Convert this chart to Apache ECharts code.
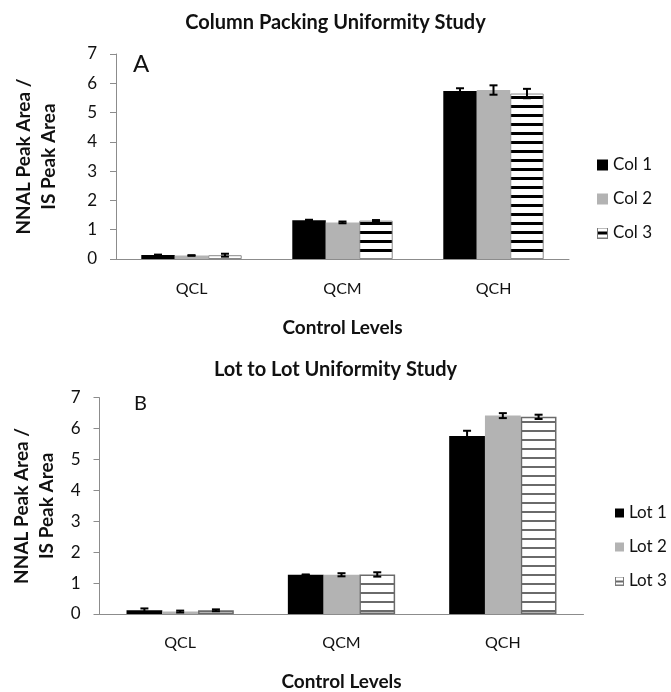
<!DOCTYPE html>
<html>
<head>
<meta charset="utf-8">
<script src="https://cdn.jsdelivr.net/npm/echarts@6/dist/echarts.min.js"></script>
<style>
html,body{margin:0;padding:0;background:#fff;}
#chart{width:671px;height:692px;}
</style>
</head>
<body>
<div id="chart"></div>
<script>
// ---- data ----
const categories = ['QCL', 'QCM', 'QCH'];
const yTicks = [0, 1, 2, 3, 4, 5, 6, 7];
const titleA = 'Column Packing Uniformity Study';
const titleB = 'Lot to Lot Uniformity Study';
const yName = 'NNAL Peak Area /\nIS Peak Area';
const xName = 'Control Levels';
const namesA = ['Col 1', 'Col 2', 'Col 3'];
const namesB = ['Lot 1', 'Lot 2', 'Lot 3'];

const col1 = [0.14, 1.32, 5.74];
const col1Err = [0.01, 0.02, 0.09];
const col2 = [0.12, 1.25, 5.77];
const col2Err = [0.01, 0.03, 0.16];
const col3 = [0.13, 1.31, 5.65];
const col3Err = [0.05, 0.02, 0.16];

const lot1 = [0.12, 1.27, 5.76];
const lot1Err = [0.06, 0.01, 0.17];
const lot2 = [0.08, 1.27, 6.42];
const lot2Err = [0.03, 0.05, 0.08];
const lot3 = [0.12, 1.28, 6.38];
const lot3Err = [0.03, 0.07, 0.07];

// ---- helpers ----
function stripeCanvas(lineColor, thick, period) {
  const c = document.createElement('canvas');
  c.width = 8; c.height = period;
  const g = c.getContext('2d');
  g.fillStyle = '#fff'; g.fillRect(0, 0, 8, period);
  g.fillStyle = lineColor; g.fillRect(0, period - thick, 8, thick);
  return c;
}
function legendIcon(lineColor, thick, size) {
  const c = document.createElement('canvas');
  c.width = size; c.height = size;
  const g = c.getContext('2d');
  g.fillStyle = '#fff'; g.fillRect(0, 0, size, size);
  g.strokeStyle = '#7a7a7a'; g.lineWidth = 1;
  g.strokeRect(0.5, 0.5, size - 1, size - 1);
  g.fillStyle = lineColor;
  g.fillRect(1, Math.round(size / 2 - thick / 2), size - 2, thick);
  return 'image://' + c.toDataURL();
}
const FONT = 'Lato';
const GAP = 0.335;

function errData(vals, errs) {
  const out = [];
  vals.forEach((arr, s) => arr.forEach((v, i) => out.push([i, v, errs[s][i], s])));
  return out;
}
function errRender(params, api) {
  const ci = api.value(0), v = api.value(1), e = api.value(2), s = api.value(3);
  const band = api.size([1, 0])[0];
  const bw = band * (1 - GAP) / 3;
  const base = api.coord([ci, v]);
  const cx = base[0] + (s - 1) * bw;
  const yt = api.coord([ci, v + e])[1];
  const yb = api.coord([ci, v - e])[1];
  const cap = 4;
  const st = { stroke: '#000', lineWidth: 2 };
  return {
    type: 'group',
    children: [
      { type: 'line', shape: { x1: cx, y1: yt, x2: cx, y2: yb }, style: st },
      { type: 'line', shape: { x1: cx - cap, y1: yt, x2: cx + cap, y2: yt }, style: st },
      { type: 'line', shape: { x1: cx - cap, y1: yb, x2: cx + cap, y2: yb }, style: st }
    ]
  };
}

const chart = echarts.init(document.getElementById('chart'), null, { renderer: 'canvas' });

function xAxisCfg(gi, labelMargin, nameGap) {
  return {
    type: 'category', gridIndex: gi, data: categories,
    axisLine: { lineStyle: { color: '#8c8c8c', width: 1 } },
    axisTick: { show: false },
    axisLabel: { margin: labelMargin, fontFamily: FONT, fontSize: 16, color: '#111' },
    name: xName, nameLocation: 'middle', nameGap: nameGap,
    nameTextStyle: { fontFamily: FONT, fontSize: 19, fontWeight: 'bold', color: '#111' }
  };
}
function yAxisCfg(gi, nameGap) {
  return {
    type: 'value', gridIndex: gi, min: yTicks[0], max: yTicks[yTicks.length - 1], interval: 1,
    splitLine: { show: false },
    axisLine: { show: true, lineStyle: { color: '#8c8c8c', width: 1 } },
    axisTick: { show: true, length: 6, lineStyle: { color: '#8c8c8c' } },
    axisLabel: { margin: 19, fontFamily: FONT, fontSize: 17, color: '#111' },
    name: yName, nameLocation: 'middle', nameRotate: 90, nameGap: nameGap,
    nameTextStyle: { fontFamily: FONT, fontSize: 19, fontWeight: 'bold', color: '#111', lineHeight: 25 }
  };
}

const patA = { image: stripeCanvas('#000', 3, 9), repeat: 'repeat' };
const patB = { image: stripeCanvas('#6a6a6a', 2, 9), repeat: 'repeat' };

const option = {
  backgroundColor: '#fff',
  animation: false,
  title: [
    { text: titleA, left: 'center', top: 13, padding: 0,
      textStyle: { fontFamily: FONT, fontSize: 20, fontWeight: 'bold', color: '#111' } },
    { text: titleB, left: 'center', top: 360, padding: 0,
      textStyle: { fontFamily: FONT, fontSize: 20, fontWeight: 'bold', color: '#111' } }
  ],
  graphic: [
    { type: 'text', left: 133, top: 52, style: { text: 'A', font: '24px Lato', fill: '#111' } },
    { type: 'text', left: 134, top: 394, style: { text: 'B', font: '20px Lato', fill: '#111' } }
  ],
  legend: [
    { orient: 'vertical', left: 597, top: 155, padding: 0, itemWidth: 11, itemHeight: 11, itemGap: 14,
      data: [
        { name: namesA[0], icon: 'rect' },
        { name: namesA[1], icon: 'rect' },
        { name: namesA[2], icon: legendIcon('#000', 3, 11) }
      ],
      textStyle: { fontFamily: FONT, fontSize: 17, color: '#111', lineHeight: 20 } },
    { orient: 'vertical', left: 615, top: 503, padding: 0, itemWidth: 9, itemHeight: 9, itemGap: 14,
      data: [
        { name: namesB[0], icon: 'rect' },
        { name: namesB[1], icon: 'rect' },
        { name: namesB[2], icon: legendIcon('#6a6a6a', 2, 9) }
      ],
      textStyle: { fontFamily: FONT, fontSize: 17, color: '#111', lineHeight: 20 } }
  ],
  grid: [
    { left: 116, right: 102, top: 54, bottom: 433 },
    { left: 99.5, right: 87.5, top: 397.7, bottom: 76.3 }
  ],
  xAxis: [xAxisCfg(0, 22, 59), xAxisCfg(1, 21, 58)],
  yAxis: [yAxisCfg(0, 55), yAxisCfg(1, 39)],
  series: [
    { name: namesA[0], type: 'bar', xAxisIndex: 0, yAxisIndex: 0, data: col1,
      barGap: 0, barCategoryGap: (GAP * 100) + '%', itemStyle: { color: '#000' } },
    { name: namesA[1], type: 'bar', xAxisIndex: 0, yAxisIndex: 0, data: col2,
      itemStyle: { color: '#b3b3b3' } },
    { name: namesA[2], type: 'bar', xAxisIndex: 0, yAxisIndex: 0, data: col3,
      itemStyle: { color: patA, borderColor: '#8a8a8a', borderWidth: 1 } },
    { name: 'errA', type: 'custom', xAxisIndex: 0, yAxisIndex: 0, z: 5,
      data: errData([col1, col2, col3], [col1Err, col2Err, col3Err]), renderItem: errRender },

    { name: namesB[0], type: 'bar', xAxisIndex: 1, yAxisIndex: 1, data: lot1,
      barGap: 0, barCategoryGap: (GAP * 100) + '%', itemStyle: { color: '#000' } },
    { name: namesB[1], type: 'bar', xAxisIndex: 1, yAxisIndex: 1, data: lot2,
      itemStyle: { color: '#b3b3b3' } },
    { name: namesB[2], type: 'bar', xAxisIndex: 1, yAxisIndex: 1, data: lot3,
      itemStyle: { color: patB, borderColor: '#6a6a6a', borderWidth: 1.5 } },
    { name: 'errB', type: 'custom', xAxisIndex: 1, yAxisIndex: 1, z: 5,
      data: errData([lot1, lot2, lot3], [lot1Err, lot2Err, lot3Err]), renderItem: errRender }
  ]
};
chart.setOption(option);
</script>
</body>
</html>
